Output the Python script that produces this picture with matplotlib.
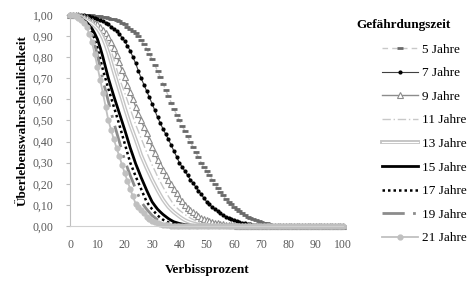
import matplotlib
matplotlib.use("Agg")
import matplotlib.pyplot as plt
import matplotlib.patheffects as pe
from matplotlib.ticker import FuncFormatter, MultipleLocator

plt.rcParams['font.family'] = ['Liberation Serif', 'DejaVu Serif']

# Verbissprozent (x, 0..100) and survival probability per exposure period
verbiss = list(range(0, 101))

jahre_5 = [1.00, 1.00, 1.00, 1.00, 1.00, 1.00, 1.00, 0.999, 0.998, 0.997,
           0.995, 0.993, 0.99, 0.988, 0.985, 0.983, 0.98, 0.975, 0.97, 0.963,
           0.955, 0.945, 0.935, 0.925, 0.915, 0.898, 0.88, 0.86, 0.84, 0.815,
           0.79, 0.763, 0.735, 0.705, 0.675, 0.645, 0.615, 0.585, 0.555, 0.527,
           0.50, 0.475, 0.45, 0.425, 0.40, 0.375, 0.35, 0.325, 0.30, 0.28,
           0.26, 0.24, 0.22, 0.20, 0.18, 0.162, 0.145, 0.13, 0.115, 0.102,
           0.09, 0.08, 0.07, 0.06, 0.05, 0.044, 0.038, 0.032, 0.027, 0.023,
           0.019, 0.015, 0.012, 0.009, 0.007, 0.005, 0.004, 0.003, 0.002, 0.0015,
           0.001] + [0.0] * 20
jahre_7 = [1.00, 1.00, 1.00, 1.00, 1.00, 0.998, 0.995, 0.993, 0.99, 0.985,
           0.98, 0.975, 0.97, 0.963, 0.955, 0.945, 0.935, 0.923, 0.91, 0.893,
           0.875, 0.853, 0.83, 0.80, 0.77, 0.735, 0.70, 0.67, 0.64, 0.61,
           0.58, 0.548, 0.515, 0.488, 0.46, 0.435, 0.41, 0.383, 0.355, 0.328,
           0.30, 0.28, 0.26, 0.24, 0.22, 0.203, 0.185, 0.168, 0.15, 0.132,
           0.115, 0.102, 0.09, 0.08, 0.07, 0.061, 0.052, 0.045, 0.038, 0.032,
           0.027, 0.023, 0.019, 0.015, 0.012, 0.01, 0.008, 0.006, 0.005, 0.004,
           0.003, 0.002, 0.001] + [0.0] * 28
jahre_9 = [1.00, 1.00, 1.00, 0.998, 0.995, 0.99, 0.985, 0.978, 0.97, 0.963,
           0.955, 0.943, 0.93, 0.913, 0.895, 0.872, 0.845, 0.81, 0.775, 0.74,
           0.705, 0.67, 0.635, 0.60, 0.565, 0.533, 0.50, 0.47, 0.44, 0.408,
           0.375, 0.345, 0.315, 0.29, 0.265, 0.243, 0.22, 0.198, 0.175, 0.155,
           0.135, 0.117, 0.10, 0.087, 0.075, 0.065, 0.055, 0.047, 0.04, 0.034,
           0.028, 0.024, 0.02, 0.016, 0.013, 0.01, 0.008, 0.006, 0.005, 0.004,
           0.003, 0.002, 0.001] + [0.0] * 38
jahre_11 = [1.00, 1.00, 1.00, 0.995, 0.99, 0.985, 0.98, 0.973, 0.965, 0.953,
            0.94, 0.925, 0.91, 0.89, 0.865, 0.83, 0.79, 0.745, 0.70, 0.665,
            0.63, 0.593, 0.555, 0.518, 0.48, 0.448, 0.415, 0.383, 0.35, 0.32,
            0.29, 0.263, 0.235, 0.21, 0.185, 0.163, 0.14, 0.12, 0.10, 0.087,
            0.075, 0.065, 0.055, 0.046, 0.038, 0.031, 0.025, 0.02, 0.016, 0.013,
            0.01, 0.008, 0.006, 0.004, 0.003, 0.002, 0.001] + [0.0] * 44
jahre_13 = [1.00, 1.00, 1.00, 0.995, 0.99, 0.983, 0.975, 0.968, 0.96, 0.948,
            0.935, 0.915, 0.89, 0.858, 0.82, 0.775, 0.73, 0.688, 0.645, 0.603,
            0.56, 0.52, 0.48, 0.445, 0.41, 0.373, 0.335, 0.305, 0.275, 0.248,
            0.22, 0.195, 0.17, 0.147, 0.125, 0.107, 0.09, 0.077, 0.065, 0.055,
            0.045, 0.036, 0.028, 0.022, 0.017, 0.013, 0.01, 0.007, 0.005, 0.003,
            0.002, 0.001] + [0.0] * 49
jahre_15 = [1.00, 0.998, 0.995, 0.99, 0.985, 0.975, 0.965, 0.95, 0.935, 0.912,
            0.885, 0.845, 0.80, 0.75, 0.70, 0.657, 0.615, 0.575, 0.535, 0.495,
            0.455, 0.413, 0.37, 0.333, 0.295, 0.263, 0.23, 0.20, 0.17, 0.142,
            0.115, 0.097, 0.08, 0.067, 0.055, 0.045, 0.035, 0.027, 0.02, 0.016,
            0.012, 0.009, 0.007, 0.005, 0.003, 0.002, 0.001] + [0.0] * 54
jahre_17 = [1.00, 0.998, 0.995, 0.988, 0.98, 0.97, 0.96, 0.94, 0.92, 0.883,
            0.845, 0.793, 0.74, 0.695, 0.65, 0.608, 0.565, 0.523, 0.48, 0.435,
            0.39, 0.345, 0.30, 0.268, 0.235, 0.205, 0.175, 0.145, 0.115, 0.097,
            0.08, 0.065, 0.05, 0.04, 0.03, 0.023, 0.017, 0.013, 0.009, 0.006,
            0.004, 0.002, 0.001] + [0.0] * 58
jahre_19 = [1.00, 0.998, 0.995, 0.988, 0.98, 0.968, 0.955, 0.93, 0.905, 0.858,
            0.81, 0.75, 0.69, 0.64, 0.59, 0.54, 0.49, 0.445, 0.40, 0.355,
            0.31, 0.275, 0.24, 0.208, 0.175, 0.145, 0.115, 0.097, 0.08, 0.065,
            0.05, 0.04, 0.03, 0.023, 0.016, 0.012, 0.008, 0.006, 0.004, 0.002,
            0.001] + [0.0] * 60
jahre_21 = [1.00, 0.998, 0.995, 0.985, 0.975, 0.96, 0.945, 0.91, 0.87, 0.813,
            0.755, 0.693, 0.63, 0.565, 0.50, 0.455, 0.41, 0.37, 0.33, 0.29,
            0.25, 0.213, 0.175, 0.14, 0.105, 0.09, 0.075, 0.06, 0.045, 0.035,
            0.025, 0.019, 0.014, 0.01, 0.007, 0.005, 0.003, 0.002, 0.001] + [0.0] * 62

labels = ["5 Jahre", "7 Jahre", "9 Jahre", "11 Jahre", "13 Jahre",
          "15 Jahre", "17 Jahre", "19 Jahre", "21 Jahre"]

fig = plt.figure(figsize=(4.74, 2.87), dpi=100)
ax = fig.add_axes([0.148, 0.2125, 0.576, 0.7355])

ax.plot(verbiss, jahre_5, color="#c8c8c8", lw=1, ls=(0, (4, 3)),
        marker="_", ms=4, mew=2.0, mec="#6a6a6a", clip_on=False, label=labels[0])
ax.plot(verbiss, jahre_7, color="#404040", lw=0.8,
        marker="o", ms=2.0, mfc="black", mec="black", clip_on=False, label=labels[1])
ax.plot(verbiss, jahre_9, color="#8c8c8c", lw=1.0,
        marker="^", ms=4.5, mfc="white", mec="#8c8c8c", mew=0.8, clip_on=False, label=labels[2])
ax.plot(verbiss, jahre_11, color="#c8c8c8", lw=1, ls=(0, (6, 2, 1, 2)),
        clip_on=False, label=labels[3])
ax.plot(verbiss, jahre_13, color="white", lw=0.8, clip_on=False, label=labels[4],
        path_effects=[pe.Stroke(linewidth=2.8, foreground="#c4c4c4"), pe.Normal()])
ax.plot(verbiss, jahre_15, color="black", lw=2, clip_on=False, label=labels[5])
ax.plot(verbiss, jahre_17, color="black", lw=1.8, ls=(0, (1, 1.2)),
        clip_on=False, label=labels[6])
ax.plot(verbiss, jahre_19, color="#8c8c8c", lw=2, ls=(0, (8, 3, 1, 3)),
        clip_on=False, label=labels[7])
ax.plot(verbiss, jahre_21, color="#c0c0c0", lw=1.3,
        marker="o", ms=3.5, mfc="#c0c0c0", mec="#c0c0c0", clip_on=False, label=labels[8])

ax.set_xlim(0, 100)
ax.set_ylim(0, 1)
ax.xaxis.set_major_locator(MultipleLocator(10))
ax.yaxis.set_major_locator(MultipleLocator(0.1))
ax.yaxis.set_major_formatter(FuncFormatter(lambda v, p: f"{v:.2f}".replace(".", ",")))

for s in ["top", "right"]:
    ax.spines[s].set_visible(False)
ax.spines["left"].set_color("#bfbfbf")
ax.spines["bottom"].set_color("#d0d0d0")
ax.tick_params(axis="y", length=3, color="#bfbfbf", labelsize=8.5, labelcolor="#595959", pad=9)
ax.tick_params(axis="x", length=0, labelsize=8.5, labelcolor="#595959", pad=9)

ax.set_xlabel("Verbissprozent", fontsize=9.5, fontweight="bold", labelpad=10)
ax.set_ylabel("Überlebenswahrscheinlichkeit", fontsize=9.5, fontweight="bold", labelpad=3)

fig.text(356 / 474, 1 - 25 / 287, "Gefährdungszeit", fontsize=9.5, fontweight="bold",
         ha="left", va="center")
leg = fig.legend(loc="upper left", bbox_to_anchor=(0.781, 0.89), frameon=False,
                 fontsize=9.5, handlelength=2.75, handletextpad=0.3, labelspacing=0.86)

fig.savefig("out.png", dpi=100)
